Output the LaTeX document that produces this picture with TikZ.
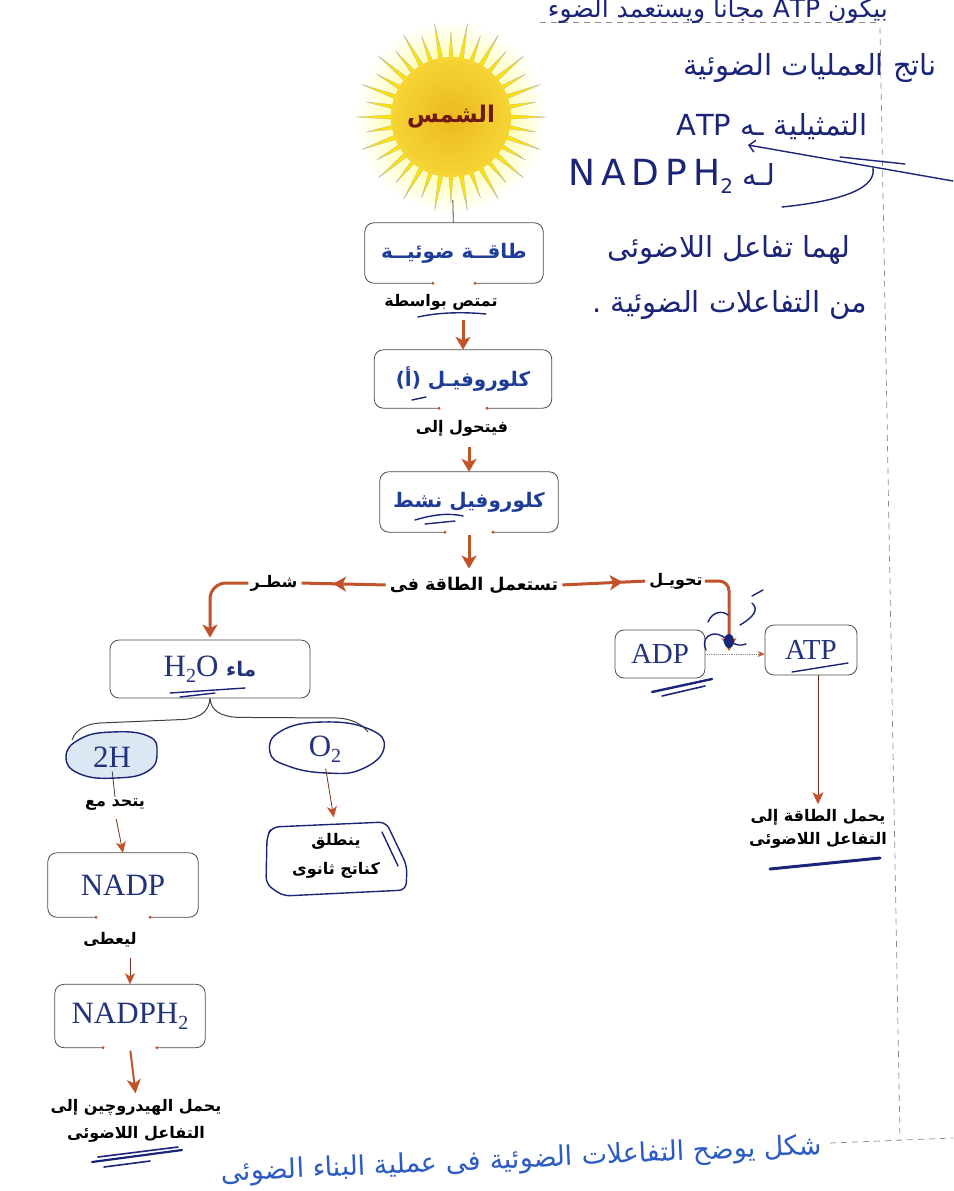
\documentclass[tikz,border=0pt]{standalone}
\usepackage{fontspec}
\setmainfont{Liberation Serif}
\newfontfamily\arfont[Script=Arabic]{DejaVu Sans}
\newfontfamily\inkfont[Script=Arabic]{DejaVu Sans}
\newfontfamily\inklatin{DejaVu Sans}
\TeXXeTstate=1
\usetikzlibrary{arrows.meta,calc,decorations.markings}

\definecolor{arr}{HTML}{C2522A}
\definecolor{boxtext}{HTML}{1E3C98}
\definecolor{serifblue}{HTML}{22337E}
\definecolor{ink}{HTML}{1A2478}
\definecolor{sunred}{HTML}{6E1A12}
\definecolor{suncore}{HTML}{EBB81E}
\definecolor{sunrim}{HTML}{F6D535}
\definecolor{capblue}{HTML}{2C5BC4}
\definecolor{hl}{HTML}{DCE7F4}
\definecolor{frameline}{HTML}{8A8A8A}

\newcommand\lblfont{\arfont\bfseries\fontsize{16}{21}\selectfont}
\newcommand\boxfont{\arfont\bfseries\fontsize{20}{24}\selectfont}
\newcommand\serfont{\fontsize{31}{34}\selectfont}
\newcommand\handfont{\inkfont\fontsize{29}{34}\selectfont}
\newcommand\subtwo{\raisebox{-6pt}{\fontsize{20}{20}\selectfont 2}}

% box outline with a gap in the middle of its bottom edge
\newcommand\gapbox[2]{%
  \draw[boxline] ($(#1.south)+(-#2,0)$) -| (#1.north west) -| (#1.south east) -- ($(#1.south)+(#2,0)$);
  \fill[arr] ($(#1.south)+(-#2,0)$) circle (1.6) ($(#1.south)+(#2,0)$) circle (1.6);
}

\tikzset{
  boxline/.style={draw=black!70, line width=0.8pt, rounded corners=9pt},
  boxn/.style={inner sep=0pt, text=boxtext},
  sbox/.style={inner sep=0pt, text=serifblue, draw=black!70, line width=0.8pt, rounded corners=9pt},
  lab/.style={text=black, inner sep=2pt, font=\lblfont},
  bigline/.style={draw=arr, line width=3pt},
  bigarrow/.style={draw=arr, line width=3pt, -{Stealth[length=13pt,width=15pt,inset=3.5pt]}},
  medarrow/.style={draw=arr, line width=2pt, -{Stealth[length=14pt,width=14pt,inset=4pt]}},
  thinarrow/.style={draw=arr!60!black, line width=0.8pt, -{Stealth[length=11pt,width=10pt,inset=3pt,color=arr]}},
  stem/.style={draw=black!75, line width=0.8pt},
  midarrow/.style={postaction={decorate}, decoration={markings,
      mark=at position #1 with {\arrow{Stealth[length=13pt,width=15pt,inset=3.5pt,color=arr]}}}},
  brace/.style={draw=black!75, line width=1pt},
  pen/.style={draw=ink, line width=1.4pt, line cap=round, line join=round},
  hand/.style={text=ink, inner sep=0pt, font=\handfont},
  pageline/.style={draw=frameline, line width=0.7pt, dash pattern=on 6pt off 5pt},
}

\begin{document}
\begin{tikzpicture}[x=1pt,y=-1pt]
\useasboundingbox (0,0) rectangle (953,1191);
\clip (0,0) rectangle (953,1191);

% ---------- page frame lines ----------
\draw[pageline] (540,22) -- (880,22);
\draw[pageline] (880,28) -- (900,1140);
\draw[pageline] (830,1143) -- (953,1138);

% ---------- the sun ----------
\coordinate (sc) at (451,117);
\shade[inner color=yellow!70!white, outer color=white] (sc) circle (96);
\foreach \i in {0,...,35}{
  \pgfmathsetmacro\rr{ifthenelse(mod(\i,2)==0,95,86)}
  \fill[yellow!85!orange, draw=black!30, line width=0.3pt]
    ($(sc)+(\i*10-3.5:48)$) -- ($(sc)+(\i*10:\rr)$) -- ($(sc)+(\i*10+3.5:48)$) -- cycle;
}
\shade[inner color=suncore, outer color=sunrim] (sc) circle (60);
\node[circle, minimum size=166pt, inner sep=0pt, text=sunred] (sun) at (sc)
  {\arfont\bfseries\fontsize{23}{26}\selectfont\beginR الشمس\endR};

% ---------- central column ----------
\node[boxn, minimum width=178pt, minimum height=60pt] (b1) at (454,253)
  {\boxfont\beginR طاقــة ضوئيــة\endR};
\gapbox{b1}{21}
\node[lab] (l1) at (441,302) {\beginR تمتص بواسطة\endR};
\node[boxn, minimum width=177pt, minimum height=58pt] (b2) at (463,379)
  {\boxfont{\inklatin\bfseries(}\beginR أ\endR{\inklatin\bfseries)}\ \beginR كلوروفيـل\endR};
\gapbox{b2}{24}
\node[lab] (l2) at (462,428) {\beginR فيتحول إلى\endR};
\node[boxn, minimum width=178pt, minimum height=60pt] (b3) at (469,502)
  {\boxfont\beginR كلوروفيل نشط\endR};
\gapbox{b3}{24}
\node[lab, font=\arfont\bfseries\fontsize{17.5}{21}\selectfont] (l3) at (474,585) {\beginR تستعمل الطاقة فى\endR};
\node[lab] (ls) at (274,583) {\beginR شطـر\endR};
\node[lab] (lt) at (676,581) {\beginR تحويـل\endR};

\draw[stem] (sun) -- (b1);
\draw[bigarrow, shorten <=8pt] (l1.south -| b2.north) -- (b2.north);
\draw[bigarrow, shorten <=9pt] (l2.south -| b3.north) -- (b3.north);
\draw[bigarrow, shorten <=3pt, shorten >=6pt] (b3.south) -- (b3.south |- l3.north);
\draw[bigline, midarrow=0.62, shorten <=2pt, shorten >=2pt] (l3.west) -- (ls.east);
\draw[bigline, midarrow=0.72, shorten <=2pt, shorten >=2pt] (l3.east) -- (lt.west);

% ---------- water branch ----------
\node[sbox, minimum width=200pt, minimum height=58pt] (h) at (210,669)
  {\serfont H\subtwo O \boxfont\beginR ماء\endR};
\draw[bigarrow, rounded corners=16pt, shorten >=2pt] (ls.west) -| (h.north);

% brace under the water box
\draw[brace] (h.south) .. controls ($(h.south)+(-1,12)$) and ($(h.south)+(-8,19)$) ..
  ($(h.south)+(-25,21)$) -- (100,723) .. controls (86,724) and (76,729) .. (72,740);
\draw[brace] (h.south) .. controls ($(h.south)+(1,12)$) and ($(h.south)+(10,18)$) ..
  ($(h.south)+(28,19)$) -- (338,718) .. controls (352,719) and (362,724) .. (368,732);

% hand-drawn rings round 2H and O2
\draw[pen, fill=hl] plot[smooth cycle, tension=0.8] coordinates
  {(66,757) (80,739) (112,732) (148,736) (157,752) (148,771) (116,778) (80,774)};
\draw[pen] plot[smooth cycle, tension=0.8] coordinates
  {(270,752) (281,731) (323,722) (369,729) (384,748) (362,769) (327,773) (288,766)};

\node[lab, text=serifblue, font=\serfont] (h2) at (112,757) {2H};
\node[lab, text=serifblue, font=\serfont] (o2) at (325,749) {O\subtwo};

\node[lab] (lu) at (115,805) {\beginR يتحد مع\endR};
\draw[stem, shorten <=2pt] (h2.south) -- (lu.north);
\node[boxn, text=serifblue, minimum width=150pt, minimum height=64pt] (n1) at (123,885)
  {\serfont NADP};
\gapbox{n1}{27}
\draw[thinarrow, shorten <=6pt] (lu.south) -- (n1.north);

\node[lab] (lg) at (110,940) {\beginR ليعطى\endR};
\node[boxn, text=serifblue, minimum width=150pt, minimum height=63pt] (n2) at (130,1016)
  {\serfont NADPH\subtwo};
\gapbox{n2}{27}
\draw[thinarrow, shorten <=8pt] (lg.south -| n2.north) -- (n2.north);
\node[lab, align=center, font=\arfont\bfseries\fontsize{16}{27}\selectfont] (lb) at (136,1121)
  {\beginR يحمل الهيدروچين إلى\endR\\\beginR التفاعل اللاضوئى\endR};
\draw[medarrow, shorten <=3pt, shorten >=4pt] (n2.south) -- (lb.north);

% oxygen released
\node[lab, align=center, font=\arfont\bfseries\fontsize{16}{29}\selectfont] (rel) at (336,856)
  {\beginR ينطلق\endR\\\beginR كناتج ثانوى\endR};
\draw[thinarrow, shorten <=4pt, shorten >=14pt] (o2.south) -- (rel.north);
\draw[pen, rounded corners=7pt] (272,827) -- (386,822) -- (407,866) -- (406,890)
  -- (283,896) -- (266,884) -- (267,836) -- cycle;
\draw[pen] (382,832) -- (398,866);

% ---------- ADP / ATP branch ----------
\node[sbox, minimum width=90pt, minimum height=48pt] (adp) at (660,654)
  {\fontsize{29}{30}\selectfont ADP};
\node[sbox, minimum width=92pt, minimum height=50pt] (atp) at (811,650)
  {\fontsize{29}{30}\selectfont ATP};
\coordinate (conv) at (729,651);
\draw[bigarrow, rounded corners=10pt] (lt.east) -| (conv);
\draw[draw=black!45, line width=0.8pt, densely dotted,
      -{Stealth[length=7pt,width=6pt,color=arr]}] (adp.east) -- (adp.east -| atp.west);
\node[lab, align=center, font=\arfont\bfseries\fontsize{16}{23}\selectfont] (lr) at (818,829)
  {\beginR يحمل الطاقة إلى\endR\\\beginR التفاعل اللاضوئى\endR};
\draw[draw=arr!55!black, line width=0.9pt, -{Stealth[length=12pt,width=11pt,inset=3pt,color=arr]},
      shorten >=3pt] (atp.south -| lr.north) -- (lr.north);

% ---------- caption ----------
\node[anchor=east, rotate=2.6, text=capblue, inner sep=0pt] (cap) at (822,1147)
  {\arfont\fontsize{27}{30}\selectfont\beginR شكل يوضح التفاعلات الضوئية فى عملية البناء الضوئى\endR};

% ---------- pen notes ----------
\node[hand, anchor=east, font=\inkfont\fontsize{25}{30}\selectfont] (hw0) at (888,11)
  {\beginR بيكون \beginL ATP\endL{} مجانا ويستعمد الضوء\endR};
\node[hand, anchor=west] (hw1) at (683,68) {\beginR ناتج العمليات الضوئية\endR};
\node[hand, anchor=west] (hw2) at (676,127)
  {\beginR التمثيلية ـه \beginL ATP\endL\endR};
\node[hand, anchor=west] (hw3) at (568,176)
  {{\inklatin\fontsize{36}{40}\selectfont N\,A\,D\,P\,H\raisebox{-8pt}{\fontsize{20}{20}\selectfont 2}}\ \beginR لـه\endR};
\node[hand, anchor=west] (hw4) at (607,250) {\beginR لهما تفاعل اللاضوئى\endR};
\node[hand, anchor=west] (hw5) at (592,305) {\beginR من التفاعلات الضوئية .\endR};

\draw[pen, -{Straight Barb[length=6pt]}] (953,181) -- (748,145);
\draw[pen] (840,157) -- (905,164);
\draw[pen] (873,168) .. controls (876,186) and (850,200) .. (782,207);

% underlines and marks
\draw[pen] (418,317) .. controls (440,312) and (465,312) .. (486,314);
\draw[pen] (412,400) -- (426,397);
\draw[pen] (415,520) .. controls (435,514) and (450,513) .. (463,516);
\draw[pen] (425,524) -- (455,521);
\draw[pen] (170,693) -- (245,688);
\draw[pen] (180,697) -- (215,693);
\draw[pen, line width=2.4pt] (652,692) -- (712,679);
\draw[pen, line width=1.6pt] (662,696) -- (705,686);
\draw[pen] (792,672) -- (848,663);
\draw[pen, line width=3pt] (770,869) -- (880,858);
\draw[pen, line width=2.2pt] (92,1162) -- (182,1150);
\draw[pen, line width=1.6pt] (98,1157) -- (178,1147);
\draw[pen, line width=1.6pt] (104,1167) -- (150,1161);

% pen scribble between ADP and ATP
\draw[pen] (708,622) .. controls (712,612) and (722,610) .. (728,615);
\draw[pen] (706,650) .. controls (700,638) and (712,630) .. (722,636)
  .. controls (730,640) and (735,648) .. (746,644);
\draw[pen] (740,625) .. controls (752,618) and (760,610) .. (752,603);
\draw[pen] (752,596) -- (763,590);
\fill[ink] (729,641) ellipse [x radius=5, y radius=7];
\end{tikzpicture}
\end{document}
